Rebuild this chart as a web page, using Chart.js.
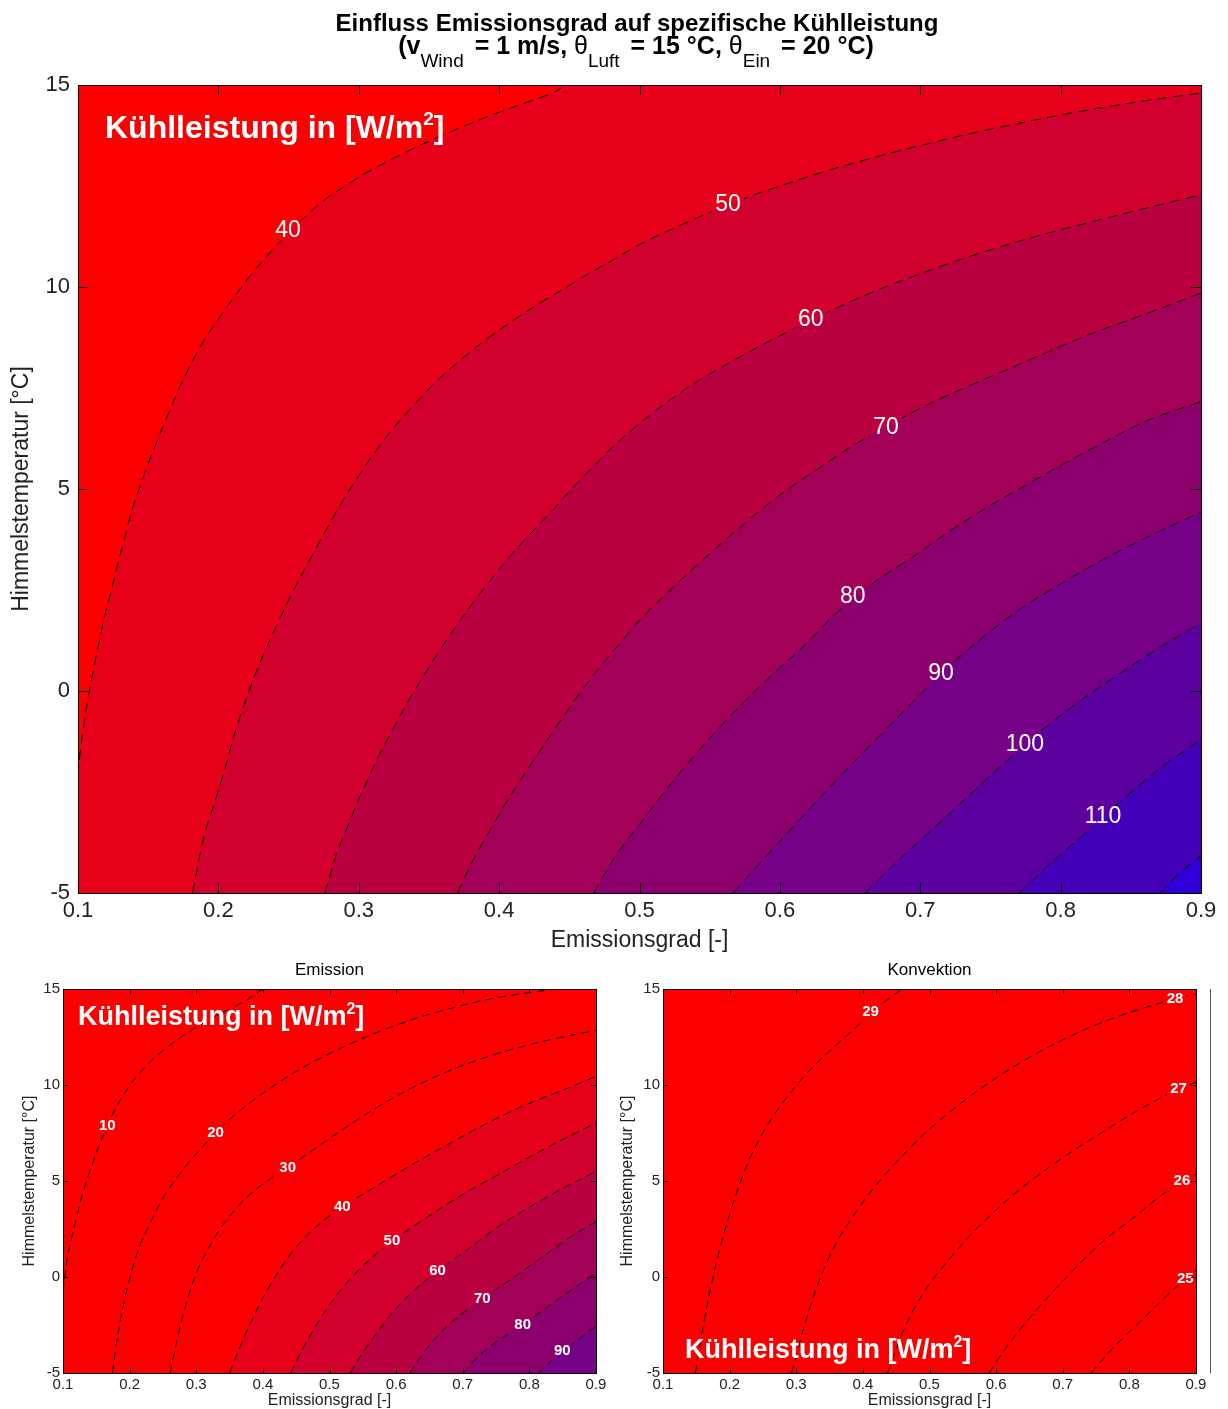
<!DOCTYPE html>
<html lang="de">
<head>
<meta charset="utf-8">
<title>Einfluss Emissionsgrad auf spezifische Kühlleistung</title>
<script src="https://cdn.jsdelivr.net/npm/chart.js@4.4.1/dist/chart.umd.min.js"></script>
<style>
  html, body { margin: 0; padding: 0; background: #fff; overflow: hidden; }
  canvas { position: absolute; }
</style>
</head>
<body>
<canvas id="gesamt" width="1228" height="955" style="left:0;top:0"></canvas>
<canvas id="emission" width="614" height="454" style="left:0;top:955px"></canvas>
<canvas id="konvektion" width="614" height="454" style="left:614px;top:955px"></canvas>
<script>
const SCHRIFT = '"Liberation Sans", Arial, Helvetica, sans-serif';
Chart.defaults.font.family = SCHRIFT;
Chart.defaults.color = '#222';

// Achsen
const xTicks = [0.1, 0.2, 0.3, 0.4, 0.5, 0.6, 0.7, 0.8, 0.9];
const yTicks = [-5, 0, 5, 10, 15];

// Farbstufen: < 40, 40-50, ... , > 120 W/m2
const farben = ['rgb(250,0,0)', 'rgb(230,0,25)', 'rgb(210,0,45)', 'rgb(187,0,65)', 'rgb(163,0,88)',
                'rgb(140,0,110)', 'rgb(118,0,135)', 'rgb(92,0,160)', 'rgb(68,0,185)', 'rgb(45,0,215)'];

// ---- Gesamt (oben): Konturlinien [Emissionsgrad, Himmelstemperatur] ----
const gesamtStufen = [40, 50, 60, 70, 80, 90, 100, 110, 120];
const gesamt40 = [[0.1,-2.1],[0.1013,-1.6],[0.1051,-0.61],[0.1102,0.38],[0.114,1.04],[0.119,1.86],[0.124,2.52],[0.128,3.1],[0.133,3.76],[0.138,4.42],[0.1435,5.0],[0.1536,5.95],[0.1612,6.6],[0.1765,7.82],[0.1893,8.65],[0.202,9.31],[0.2122,9.8],[0.225,10.38],[0.2352,10.79],[0.2505,11.37],[0.2607,11.7],[0.2735,12.1],[0.2888,12.47],[0.3066,12.85],[0.3245,13.18],[0.3449,13.53],[0.3653,13.84],[0.3883,14.17],[0.4138,14.5],[0.4393,14.82],[0.4495,15]];
const gesamt50 = [[0.1816,-5],[0.1893,-3.66],[0.1982,-2.67],[0.2059,-1.77],[0.211,-1.11],[0.2173,-0.45],[0.225,0.3],[0.2314,0.84],[0.2403,1.53],[0.248,2.11],[0.2556,2.63],[0.2633,3.13],[0.2735,3.78],[0.2811,4.26],[0.2939,5.0],[0.3117,5.92],[0.3245,6.5],[0.3398,7.1],[0.3551,7.66],[0.3755,8.28],[0.3908,8.7],[0.4087,9.14],[0.4265,9.55],[0.4444,9.92],[0.4622,10.3],[0.4827,10.7],[0.5,11.05],[0.5255,11.47],[0.551,11.86],[0.5816,12.28],[0.6071,12.58],[0.6327,12.87],[0.6582,13.12],[0.6837,13.36],[0.7092,13.58],[0.7347,13.79],[0.7602,13.98],[0.7857,14.16],[0.8112,14.33],[0.8367,14.48],[0.8622,14.62],[0.9,14.8]];
const gesamt60 = [[0.276,-5],[0.2837,-4.08],[0.2913,-3.42],[0.299,-2.76],[0.3066,-2.18],[0.3143,-1.6],[0.3245,-0.94],[0.3347,-0.28],[0.3449,0.3],[0.3551,0.87],[0.3679,1.53],[0.3781,2.03],[0.3908,2.61],[0.4061,3.27],[0.4214,3.86],[0.4367,4.42],[0.4495,4.92],[0.4622,5.38],[0.4776,5.93],[0.5,6.62],[0.5153,7.04],[0.5383,7.6],[0.5638,8.12],[0.5893,8.6],[0.6224,9.18],[0.6429,9.52],[0.6735,9.98],[0.7041,10.38],[0.7347,10.75],[0.7653,11.08],[0.7959,11.38],[0.8265,11.65],[0.8571,11.92],[0.9,12.28]];
const gesamt70 = [[0.3704,-5],[0.3806,-4.24],[0.3934,-3.45],[0.4061,-2.7],[0.4189,-2.01],[0.4316,-1.35],[0.4444,-0.7],[0.4571,-0.07],[0.4724,0.62],[0.4878,1.25],[0.5,1.75],[0.525,2.6],[0.55,3.4],[0.575,4.15],[0.6,4.85],[0.625,5.45],[0.65,6.03],[0.675,6.53],[0.7,7.0],[0.73,7.48],[0.76,7.93],[0.79,8.38],[0.82,8.82],[0.85,9.2],[0.875,9.52],[0.9,9.85]];
const gesamt80 = [[0.4673,-5],[0.4827,-4.1],[0.5,-3.3],[0.5128,-2.72],[0.5306,-1.95],[0.551,-1.13],[0.5714,-0.38],[0.5944,0.4],[0.6173,1.12],[0.6378,1.85],[0.6684,2.72],[0.6939,3.3],[0.7219,3.98],[0.7526,4.65],[0.7704,5.0],[0.801,5.6],[0.8316,6.17],[0.8622,6.7],[0.9,7.16]];
const gesamt90 = [[0.5666,-5],[0.59,-4.1],[0.615,-3.15],[0.64,-2.22],[0.665,-1.32],[0.69,-0.44],[0.714,0.4],[0.74,1.2],[0.77,2.0],[0.8,2.65],[0.83,3.25],[0.86,3.78],[0.9,4.43]];
const gesamt100 = [[0.6606,-5],[0.6888,-4.05],[0.7117,-3.33],[0.7347,-2.59],[0.7551,-1.93],[0.7746,-1.33],[0.7934,-0.78],[0.8189,-0.12],[0.8469,0.54],[0.8724,1.12],[0.9,1.68]];
const gesamt110 = [[0.7704,-5],[0.795,-4.2],[0.82,-3.45],[0.83,-3.13],[0.847,-2.6],[0.8724,-1.87],[0.9,-1.2]];
const gesamt120 = [[0.871,-5],[0.8827,-4.57],[0.9,-4.08]];
const gesamtLabels = [[0.2496,11.39,'40'],[0.563,12.03,'50'],[0.622,9.18,'60'],[0.6756,6.52,'70'],[0.652,2.33,'80'],[0.7148,0.42,'90'],[0.7746,-1.32,'100'],[0.8302,-3.1,'110']];

// ---- Emission (unten links) ----
const emissionStufen = [10, 20, 30, 40, 50, 60, 70, 80, 90];
const em10 = [[0.1,-0.75],[0.106,0.9],[0.1149,2.29],[0.1238,3.6],[0.1327,4.72],[0.1446,5.94],[0.1565,7.05],[0.1684,8.02],[0.1833,9.06],[0.2011,10.02],[0.2219,10.89],[0.2457,11.67],[0.2725,12.38],[0.3022,13.06],[0.3379,13.75],[0.3736,14.38],[0.4063,15]];
const em20 = [[0.1743,-5],[0.1803,-3.44],[0.1892,-1.7],[0.2011,0.03],[0.213,1.42],[0.2309,2.81],[0.2487,4.03],[0.2725,5.24],[0.2963,6.28],[0.329,7.5],[0.3498,8.2],[0.3796,9.05],[0.4093,9.8],[0.445,10.6],[0.4807,11.3],[0.5223,12.0],[0.5699,12.72],[0.6234,13.4],[0.677,13.95],[0.7364,14.45],[0.8019,14.82],[0.8494,15]];
const em30 = [[0.2606,-5],[0.2784,-2.22],[0.2963,-0.14],[0.32,1.6],[0.3498,3.16],[0.3855,4.45],[0.4372,5.7],[0.4747,6.6],[0.5163,7.6],[0.5639,8.68],[0.6175,9.74],[0.677,10.7],[0.7424,11.53],[0.8138,12.22],[0.9,12.85]];
const em40 = [[0.3498,-5],[0.365,-3.7],[0.38,-2.5],[0.4,-1.1],[0.42,0.1],[0.445,1.35],[0.47,2.3],[0.495,3.05],[0.5193,3.65],[0.564,4.6],[0.6175,5.72],[0.671,6.78],[0.7305,7.9],[0.79,8.9],[0.8494,9.72],[0.9,10.45]];
const em50 = [[0.442,-5],[0.455,-4.05],[0.47,-3.1],[0.495,-1.7],[0.52,-0.55],[0.545,0.4],[0.57,1.2],[0.5937,1.86],[0.6413,2.99],[0.6949,4.2],[0.7484,5.24],[0.8019,6.28],[0.8494,7.15],[0.9,8.02]];
const em60 = [[0.5312,-5],[0.545,-4.2],[0.565,-3.2],[0.59,-2.05],[0.615,-1.1],[0.64,-0.3],[0.6621,0.3],[0.7067,1.42],[0.7543,2.64],[0.8019,3.68],[0.8494,4.6],[0.9,5.5]];
const em70 = [[0.6204,-5],[0.64,-4.0],[0.66,-3.15],[0.685,-2.3],[0.7293,-1.15],[0.7721,-0.12],[0.8138,0.9],[0.8554,1.94],[0.9,2.9]];
const em80 = [[0.7007,-5],[0.72,-4.25],[0.745,-3.5],[0.7899,-2.5],[0.8375,-1.3],[0.9,0.21]];
const em90 = [[0.8138,-5],[0.8494,-3.87],[0.8732,-3.26],[0.9,-2.57]];
const emissionLabels = [[0.1666,7.85,'10'],[0.329,7.5,'20'],[0.4372,5.7,'30'],[0.5193,3.65,'40'],[0.5937,1.86,'50'],[0.6621,0.3,'60'],[0.7293,-1.15,'70'],[0.7899,-2.5,'80'],[0.8494,-3.87,'90']];

// ---- Konvektion (unten rechts) ----
const konvektionStufen = [29, 28, 27, 26, 25];
const ko29 = [[0.1485,-5],[0.1613,-2.36],[0.1766,0.24],[0.1919,2.33],[0.2073,4.06],[0.2277,5.97],[0.2532,7.71],[0.2839,9.27],[0.3196,10.75],[0.3605,12.1],[0.3911,13.05],[0.4115,13.75],[0.4371,14.45],[0.4652,15]];
const ko28 = [[0.2931,-5],[0.3094,-2.88],[0.3298,-0.63],[0.3554,1.46],[0.386,3.2],[0.4166,4.65],[0.4575,6.25],[0.4984,7.65],[0.5443,8.98],[0.5903,10.14],[0.6414,11.27],[0.7027,12.4],[0.764,13.33],[0.8252,14.05],[0.8686,14.48],[0.9,14.74]];
const ko27 = [[0.4371,-5],[0.4575,-3.06],[0.4882,-0.97],[0.5341,1.11],[0.575,2.67],[0.6363,4.58],[0.6975,6.15],[0.7588,7.53],[0.815,8.72],[0.8457,9.3],[0.8737,9.8],[0.9,10.14]];
const ko26 = [[0.5893,-5],[0.6209,-3.4],[0.6618,-1.67],[0.7078,0.07],[0.7588,1.81],[0.8099,3.19],[0.8457,4.2],[0.8789,4.98],[0.9,5.36]];
const ko25 = [[0.7425,-5],[0.7741,-3.75],[0.815,-2.36],[0.8457,-1.32],[0.884,-0.1],[0.9,0.33]];
const konvektionLabels = [[0.4115,13.8,'29'],[0.8686,14.48,'28'],[0.8737,9.82,'27'],[0.8789,5.0,'26'],[0.884,-0.08,'25']];

function farbeFuer(stufe) {
  const i = Math.floor((stufe - 30) / 10);
  return farben[Math.max(0, Math.min(farben.length - 1, i))];
}

// Text mit Hoch-/Tiefstellung
function reichText(ctx, teile, x, y, zentriert) {
  let breite = 0;
  teile.forEach(t => { ctx.font = t.f; breite += ctx.measureText(t.t).width + (t.luft || 0); });
  let cx = zentriert ? x - breite / 2 : x;
  teile.forEach(t => {
    ctx.font = t.f;
    ctx.fillText(t.t, cx, y + (t.dy || 0));
    cx += ctx.measureText(t.t).width + (t.luft || 0);
  });
}

// Konturbeschriftung, Linie wird unter der Zahl ausgespart
const konturLabels = {
  id: 'konturLabels',
  beforeDatasetDraw(chart, args, o) {
    if (!chart.data.datasets[args.index].kontur) return;
    const ctx = chart.ctx;
    ctx.save();
    ctx.font = o.font;
    ctx.beginPath();
    ctx.rect(0, 0, chart.width, chart.height);
    o.items.forEach(([x, y, txt]) => {
      const px = chart.scales.x.getPixelForValue(x);
      const py = chart.scales.y.getPixelForValue(y);
      const w = ctx.measureText(txt).width + 2 * o.luecke;
      ctx.rect(px - w / 2, py - o.hoehe / 2, w, o.hoehe);
    });
    ctx.clip('evenodd');
  },
  afterDatasetDraw(chart, args) {
    if (chart.data.datasets[args.index].kontur) chart.ctx.restore();
  },
  afterDatasetsDraw(chart, args, o) {
    const ctx = chart.ctx;
    ctx.save();
    ctx.font = o.font;
    ctx.fillStyle = '#fff';
    ctx.textAlign = 'center';
    ctx.textBaseline = 'middle';
    o.items.forEach(([x, y, txt]) => {
      ctx.fillText(txt, chart.scales.x.getPixelForValue(x), chart.scales.y.getPixelForValue(y));
    });
    ctx.restore();
  }
};

// Rahmen mit Ticks nach innen (alle vier Seiten)
const rahmen = {
  id: 'rahmen',
  afterDatasetsDraw(chart, args, o) {
    const {ctx, chartArea: a, scales: {x, y}} = chart;
    ctx.save();
    ctx.strokeStyle = '#000';
    ctx.lineWidth = 1;
    ctx.beginPath();
    xTicks.forEach(v => {
      const p = Math.round(x.getPixelForValue(v)) + 0.5;
      ctx.moveTo(p, a.bottom); ctx.lineTo(p, a.bottom - o.laenge);
      ctx.moveTo(p, a.top); ctx.lineTo(p, a.top + o.laenge);
    });
    yTicks.forEach(v => {
      const p = Math.round(y.getPixelForValue(v)) + 0.5;
      ctx.moveTo(a.left, p); ctx.lineTo(a.left + o.laenge, p);
      ctx.moveTo(a.right, p); ctx.lineTo(a.right - o.laenge, p);
    });
    ctx.stroke();
    ctx.strokeRect(Math.round(a.left) + 0.5, Math.round(a.top) + 0.5,
                   Math.round(a.right - a.left), Math.round(a.bottom - a.top));
    if (o.seitenLinie) {
      const sx = Math.round(a.right + o.seitenLinie) + 0.5;
      ctx.strokeStyle = '#555';
      ctx.beginPath(); ctx.moveTo(sx, a.top); ctx.lineTo(sx, a.bottom); ctx.stroke();
    }
    ctx.restore();
  }
};

const beschriftung = {
  id: 'beschriftung',
  afterDraw(chart, args, o) {
    const ctx = chart.ctx, a = chart.chartArea, k = o.kuehl;
    ctx.save();
    ctx.textAlign = 'left';
    ctx.textBaseline = 'alphabetic';
    ctx.fillStyle = '#fff';
    reichText(ctx, [
      {t: 'Kühlleistung in [W/m', f: `bold ${k.gr}px ${SCHRIFT}`},
      {t: '2', f: `bold ${k.hoch}px ${SCHRIFT}`, dy: -k.hub},
      {t: ']', f: `bold ${k.gr}px ${SCHRIFT}`}
    ], a.left + k.dx, k.unten ? a.bottom - k.dy : a.top + k.dy, false);
    if (o.haupttitel) {
      ctx.fillStyle = '#000';
      const B = `bold 24px ${SCHRIFT}`, B2 = `bold 25px ${SCHRIFT}`, R = `25px ${SCHRIFT}`, S = `19px ${SCHRIFT}`;
      reichText(ctx, [{t: 'Einfluss Emissionsgrad auf spezifische Kühlleistung', f: B}], 637, 31, true);
      reichText(ctx, [
        {t: '(v', f: B2}, {t: 'Wind', f: S, dy: 13, luft: 4}, {t: ' = 1 m/s, ', f: B2},
        {t: 'θ', f: R}, {t: 'Luft', f: S, dy: 13, luft: 4}, {t: ' = 15 °C, ', f: B2},
        {t: 'θ', f: R}, {t: 'Ein', f: S, dy: 13, luft: 4}, {t: ' = 20 °C)', f: B2}
      ], 636, 54, true);
    }
    ctx.restore();
  }
};

function konturDiagramm(id, c) {
  const datensaetze = [{
    data: [{x: 0.1, y: 15}, {x: 0.9, y: 15}],
    fill: 'start', backgroundColor: farben[0], borderWidth: 0, pointRadius: 0, order: 1000
  }];
  c.linien.forEach((linie, i) => {
    const punkte = linie.map(([x, y]) => ({x, y}));
    const ende = linie[linie.length - 1];
    if (ende[1] >= 15 && ende[0] < 0.9) punkte.push({x: 0.9, y: 15});
    datensaetze.push({
      data: punkte,
      kontur: true,
      fill: 'start',
      backgroundColor: farbeFuer(c.stufen[i]),
      borderColor: '#000',
      borderWidth: 1,
      borderDash: c.strich,
      pointRadius: 0,
      cubicInterpolationMode: 'monotone',
      order: 500 - i,
      segment: {
        borderColor: s => (s.p0.parsed.y >= 15 && s.p1.parsed.y >= 15) ? 'rgba(0,0,0,0)' : undefined
      }
    });
  });

  return new Chart(document.getElementById(id), {
    type: 'line',
    data: {datasets: datensaetze},
    options: {
      responsive: false,
      animation: false,
      events: [],
      layout: {padding: c.rand},
      plugins: {
        legend: {display: false},
        tooltip: {enabled: false},
        title: {
          display: !!c.titel, text: c.titel || '', fullSize: false, color: '#000',
          font: {size: 17, weight: 'normal', lineHeight: 1.2}, padding: {top: 5, bottom: 8.6}
        },
        konturLabels: {items: c.labels, font: c.labelFont, hoehe: c.labelHoehe, luecke: 3},
        rahmen: {laenge: c.tickLaenge, seitenLinie: c.seitenLinie || 0},
        beschriftung: {kuehl: c.kuehl, haupttitel: !!c.haupttitel}
      },
      scales: {
        x: {
          type: 'linear', min: 0.1, max: 0.9,
          afterBuildTicks: s => { s.ticks = xTicks.map(v => ({value: v})); },
          afterFit: s => { s.height = c.xHoehe; },
          grid: {display: false, drawTicks: false},
          border: {display: false},
          ticks: {autoSkip: false, maxRotation: 0, padding: c.tickAbstand, color: '#222',
                  font: {size: c.tickGr}, callback: v => v.toFixed(1)},
          title: {display: true, text: 'Emissionsgrad [-]', color: '#222',
                  font: {size: c.achsGr, lineHeight: c.xTitelLH}, padding: {top: 0, bottom: c.xTitelAbstand}}
        },
        y: {
          type: 'linear', min: -5, max: 15,
          afterBuildTicks: s => { s.ticks = yTicks.map(v => ({value: v})); },
          afterFit: s => { s.width = c.yBreite; },
          grid: {display: false, drawTicks: false},
          border: {display: false},
          ticks: {autoSkip: false, padding: c.tickAbstandY, color: '#222',
                  font: {size: c.tickGr}, callback: v => String(v)},
          title: {display: true, text: 'Himmelstemperatur [°C]', color: '#222',
                  font: {size: c.achsGr, lineHeight: 1.2}, padding: {top: c.yTitelAbstand, bottom: 0}}
        }
      }
    },
    plugins: [konturLabels, rahmen, beschriftung]
  });
}

konturDiagramm('gesamt', {
  linien: [gesamt40, gesamt50, gesamt60, gesamt70, gesamt80, gesamt90, gesamt100, gesamt110, gesamt120],
  stufen: gesamtStufen,
  labels: gesamtLabels,
  labelFont: `23px ${SCHRIFT}`, labelHoehe: 20,
  strich: [10, 6],
  rand: {top: 85, right: 27, left: 0, bottom: 0},
  xHoehe: 62, yBreite: 78,
  tickGr: 22, tickAbstand: 5, tickAbstandY: 8,
  achsGr: 23, xTitelLH: 1.2, xTitelAbstand: 1, yTitelAbstand: 8,
  tickLaenge: 10,
  haupttitel: true,
  kuehl: {gr: 32, hoch: 19, hub: 13, dx: 27, dy: 53}
});

konturDiagramm('emission', {
  linien: [em10, em20, em30, em40, em50, em60, em70, em80, em90],
  stufen: emissionStufen,
  labels: emissionLabels,
  labelFont: `bold 15px ${SCHRIFT}`, labelHoehe: 14,
  strich: [8, 5],
  titel: 'Emission',
  rand: {top: 0, right: 18, left: 0, bottom: 0},
  xHoehe: 36, yBreite: 63,
  tickGr: 15, tickAbstand: 3, tickAbstandY: 3,
  achsGr: 16, xTitelLH: 1, xTitelAbstand: 0, yTitelAbstand: 20,
  tickLaenge: 5,
  kuehl: {gr: 27, hoch: 16, hub: 11, dx: 15, dy: 36}
});

konturDiagramm('konvektion', {
  linien: [ko29, ko28, ko27, ko26, ko25],
  stufen: konvektionStufen,
  labels: konvektionLabels,
  labelFont: `bold 15px ${SCHRIFT}`, labelHoehe: 14,
  strich: [8, 5],
  titel: 'Konvektion',
  rand: {top: 0, right: 32, left: 0, bottom: 0},
  xHoehe: 36, yBreite: 49,
  tickGr: 15, tickAbstand: 3, tickAbstandY: 3,
  achsGr: 16, xTitelLH: 1, xTitelAbstand: 0, yTitelAbstand: 4,
  tickLaenge: 5,
  seitenLinie: 14,
  kuehl: {gr: 27, hoch: 16, hub: 11, dx: 22, dy: 15, unten: true}
});
</script>
</body>
</html>
